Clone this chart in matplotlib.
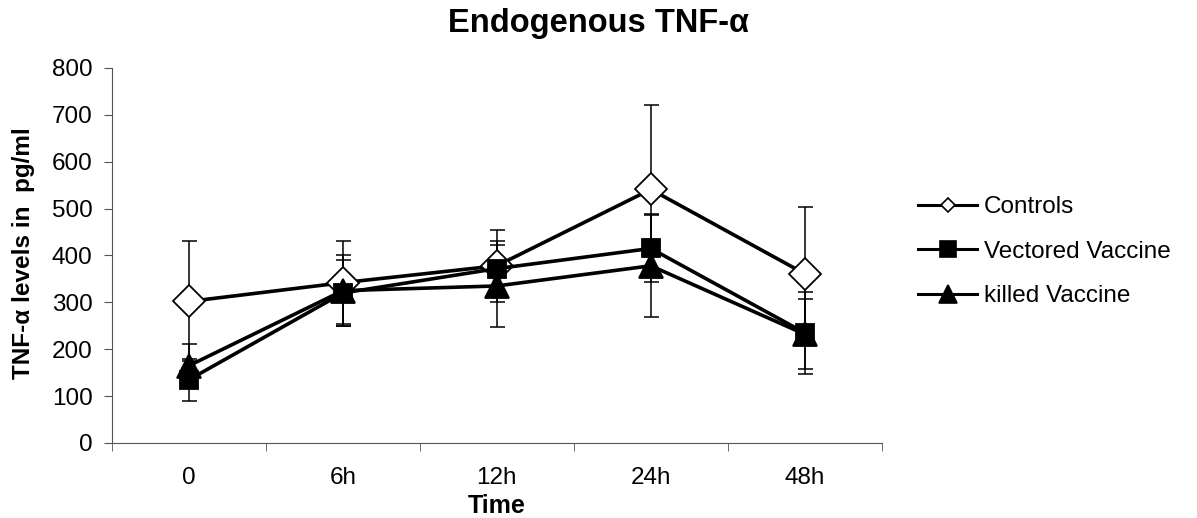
import numpy as np
import matplotlib.pyplot as plt
from matplotlib.lines import Line2D

plt.rcParams['font.family'] = ['Liberation Sans', 'DejaVu Sans']

# data
times = ['0', '6h', '12h', '24h', '48h']
controls = [302, 342, 378, 541, 361]
controls_err = [128, 88, 77, 180, 142]
vectored = [135, 320, 372, 415, 235]
vectored_err = [45, 70, 58, 71, 88]
killed = [165, 325, 335, 378, 232]
killed_err = [47, 75, 88, 110, 75]

series = [
    ('Controls', controls, controls_err, 'D', 'white', 16, 7),
    ('Vectored Vaccine', vectored, vectored_err, 's', 'black', 13, 12),
    ('killed Vaccine', killed, killed_err, '^', 'black', 17, 13),
]

fig = plt.figure(figsize=(11.97, 5.18), dpi=100)
ax = fig.add_axes([0.0936, 0.1448, 0.643, 0.724])

x = np.arange(len(times))
for name, vals, err, mk, fc, ms, lms in series:
    ax.errorbar(x, vals, yerr=err, fmt='none', ecolor='black', elinewidth=1.1,
                capsize=5.4, capthick=1.1, zorder=1)
handles = []
for name, vals, err, mk, fc, ms, lms in series:
    ax.plot(x, vals, color='black', lw=2.6, marker=mk, ms=ms, mfc=fc,
            mec='black', mew=1.3, zorder=3)
    handles.append(Line2D([], [], color='black', lw=2.2, marker=mk, ms=lms,
                          mfc=fc, mec='black', mew=1.2, label=name))

ax.set_xlim(-0.5, len(times) - 0.5)
ax.set_ylim(0, 800)
ax.set_yticks(range(0, 801, 100))
ax.set_xticks(x)
ax.set_xticklabels(times)
ax.set_xticks(np.arange(-0.5, len(times), 1), minor=True)
ax.tick_params(axis='x', which='major', length=0, labelsize=17.5, pad=17)
ax.tick_params(axis='x', which='minor', length=6, color='#555555', direction='out')
ax.tick_params(axis='y', length=6, color='#555555', labelsize=17.5, pad=8, direction='out')
for s in ['top', 'right']:
    ax.spines[s].set_visible(False)
for s in ['left', 'bottom']:
    ax.spines[s].set_color('#555555')

fig.text(0.5, 1 - 32 / 518, 'Endogenous TNF-α', fontsize=23.5, fontweight='bold',
         ha='center', va='baseline')
fig.text(497 / 1197, 1 - 513 / 518, 'Time', fontsize=18, fontweight='bold',
         ha='center', va='baseline')
fig.text(24 / 1197, 1 - 253 / 518, 'TNF-α levels in  pg/ml', fontsize=17.5,
         fontweight='bold', rotation=90, ha='center', va='center')

ax.legend(handles=handles, loc='center left', bbox_to_anchor=(1.035, 0.51),
          frameon=False, fontsize=17.5, handlelength=2.4, handletextpad=0.3,
          labelspacing=0.93, borderaxespad=0)

fig.savefig('out.png', dpi=100)
